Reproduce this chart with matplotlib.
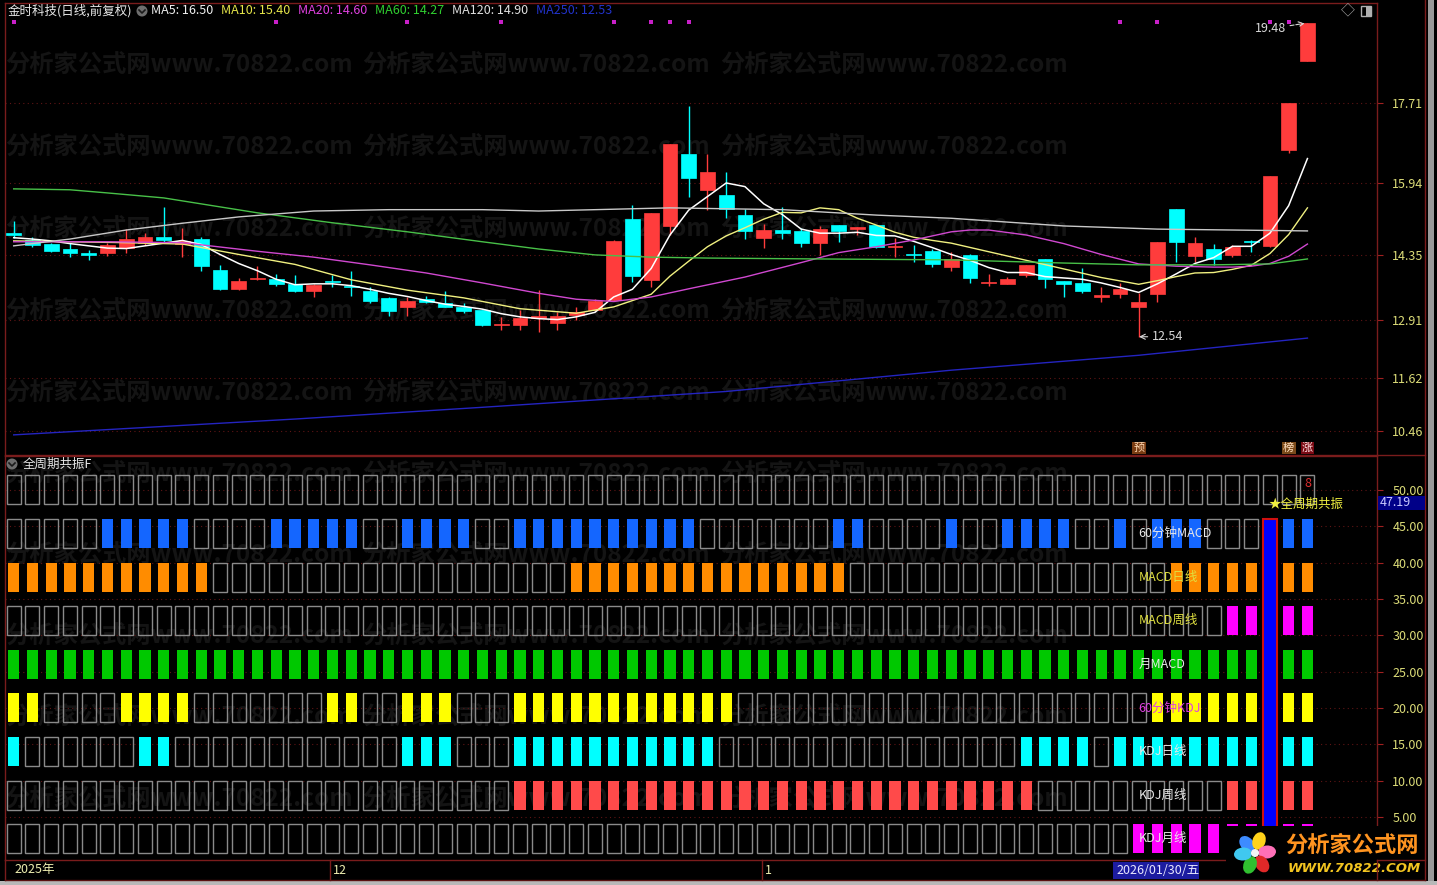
import numpy as np
import matplotlib.pyplot as plt
from matplotlib.patches import Rectangle, Ellipse
from matplotlib.lines import Line2D

plt.rcParams['font.family'] = ['Noto Sans CJK SC', 'DejaVu Sans']

# ---------------- data ----------------
opens = [14.84, 14.68, 14.59, 14.48, 14.38, 14.39, 14.50, 14.62, 14.75, 14.59,
         14.70, 14.02, 13.60, 13.82, 13.82, 13.71, 13.55, 13.77, 13.66, 13.55,
         13.40, 13.20, 13.38, 13.29, 13.20, 13.13, 12.81, 12.80, 12.96, 12.85,
         13.02, 13.13, 13.35, 15.15, 13.80, 14.99, 16.58, 15.79, 15.68, 15.23,
         14.73, 14.90, 14.88, 14.62, 15.01, 14.92, 15.01, 14.52, 14.36, 14.44,
         14.08, 14.35, 13.72, 13.71, 13.91, 14.26, 13.77, 13.73, 13.43, 13.49,
         13.20, 13.49, 15.37, 14.33, 14.48, 14.35, 14.65, 14.55, 16.67, 18.64]
highs = [15.10, 14.75, 14.62, 14.62, 14.46, 14.62, 14.92, 14.84, 15.41, 14.95,
         14.75, 14.13, 13.84, 14.11, 13.93, 13.91, 13.71, 13.91, 13.99, 13.64,
         13.42, 13.42, 13.44, 13.55, 13.29, 13.13, 12.98, 13.13, 13.58, 13.09,
         13.20, 13.38, 14.68, 15.46, 15.28, 16.80, 17.65, 16.58, 16.19, 15.37,
         15.04, 15.41, 14.95, 14.99, 15.01, 14.97, 15.02, 14.73, 14.57, 14.48,
         14.42, 14.36, 13.93, 13.86, 14.13, 14.27, 13.78, 14.06, 13.64, 13.73,
         13.51, 14.64, 15.37, 14.75, 14.59, 14.57, 14.68, 16.09, 17.70, 19.48]
lows = [14.73, 14.53, 14.42, 14.30, 14.24, 14.33, 14.39, 14.57, 14.64, 14.30,
        13.99, 13.58, 13.58, 13.80, 13.66, 13.54, 13.42, 13.64, 13.44, 13.29,
        13.00, 13.00, 13.29, 13.19, 13.07, 12.78, 12.69, 12.69, 12.65, 12.69,
        12.91, 13.11, 13.33, 13.75, 13.64, 14.79, 15.63, 15.35, 15.17, 14.70,
        14.50, 14.70, 14.53, 14.35, 14.64, 14.79, 14.50, 14.30, 14.19, 14.08,
        13.99, 13.73, 13.66, 13.70, 13.86, 13.62, 13.42, 13.51, 13.31, 13.40,
        12.54, 13.31, 14.19, 14.19, 14.13, 14.30, 14.42, 14.53, 16.61, 18.64]
closes = [14.79, 14.57, 14.44, 14.39, 14.36, 14.57, 14.70, 14.75, 14.68, 14.66,
          14.11, 13.60, 13.77, 13.84, 13.71, 13.55, 13.69, 13.75, 13.64, 13.33,
          13.11, 13.33, 13.31, 13.20, 13.11, 12.80, 12.83, 12.96, 13.00, 13.00,
          13.09, 13.33, 14.66, 13.89, 15.28, 16.80, 16.05, 16.19, 15.37, 14.88,
          14.90, 14.84, 14.62, 14.92, 14.88, 14.97, 14.53, 14.54, 14.34, 14.15,
          14.26, 13.84, 13.74, 13.82, 14.13, 13.82, 13.71, 13.55, 13.45, 13.60,
          13.31, 14.64, 14.64, 14.62, 14.26, 14.53, 14.63, 16.09, 17.70, 19.47]

ma5 = [14.73, 14.70, 14.66, 14.60, 14.55, 14.50, 14.49, 14.55, 14.61, 14.67,
       14.58, 14.36, 14.16, 14.00, 13.81, 13.69, 13.71, 13.71, 13.67, 13.59,
       13.50, 13.43, 13.34, 13.26, 13.21, 13.15, 13.05, 12.98, 12.94, 12.92,
       12.98, 13.08, 13.42, 13.59, 14.05, 14.79, 15.34, 15.64, 15.94, 15.86,
       15.48, 15.24, 14.92, 14.83, 14.83, 14.85, 14.78, 14.77, 14.65, 14.51,
       14.36, 14.23, 14.07, 13.96, 13.96, 13.87, 13.84, 13.81, 13.73, 13.63,
       13.52, 13.71, 13.93, 14.16, 14.29, 14.54, 14.54, 14.83, 15.44, 16.48]
ma10_idx = [0, 3, 6, 9, 12, 15, 18, 21, 24, 27, 30, 32, 34, 35, 36, 37, 38, 39,
            40, 41, 42, 43, 44, 45, 46, 47, 48, 49, 50, 52, 54, 56, 58, 60, 61,
            62, 63, 64, 65, 66, 67, 68, 69]
ma10 = [14.66, 14.64, 14.62, 14.59, 14.36, 14.14, 13.80, 13.57, 13.40, 13.16,
        13.06, 13.20, 13.48, 13.88, 14.21, 14.53, 14.77, 14.95, 15.14, 15.29,
        15.28, 15.39, 15.35, 15.16, 15.01, 14.85, 14.74, 14.67, 14.61, 14.42,
        14.23, 14.04, 13.85, 13.70, 13.78, 13.87, 13.95, 13.96, 14.03, 14.12,
        14.38, 14.80, 15.39]
ma20_idx = [0, 5, 9, 13, 16, 19, 22, 25, 28, 30, 32, 34, 36, 39, 42, 44, 46, 48,
            50, 51, 52, 54, 56, 58, 60, 62, 64, 65, 66, 67, 68, 69]
ma20 = [14.64, 14.64, 14.62, 14.43, 14.30, 14.13, 13.95, 13.73, 13.50, 13.37,
        13.32, 13.42, 13.60, 13.86, 14.18, 14.40, 14.53, 14.68, 14.86, 14.90,
        14.90, 14.79, 14.60, 14.36, 14.15, 14.10, 14.08, 14.08, 14.10, 14.16,
        14.32, 14.59]
ma60_idx = [0, 3, 5, 8, 13, 17, 21, 25, 28, 31, 34, 37, 43, 50, 56, 60, 64, 67, 69]
ma60 = [15.81, 15.79, 15.72, 15.61, 15.28, 15.06, 14.86, 14.64, 14.48, 14.35,
        14.30, 14.28, 14.26, 14.24, 14.17, 14.13, 14.13, 14.15, 14.26]
ma120_idx = [0, 3, 6, 9, 12, 16, 20, 25, 28, 35, 41, 46, 50, 56, 61, 65, 69]
ma120 = [14.55, 14.70, 14.90, 15.05, 15.19, 15.32, 15.35, 15.35, 15.32, 15.39,
         15.35, 15.23, 15.16, 14.99, 14.92, 14.90, 14.88]
ma250_idx = [0, 15, 25, 38, 50, 60, 69]
ma250 = [10.37, 10.72, 10.98, 11.33, 11.80, 12.13, 12.51]

dot_cols = [0, 14, 21, 26, 32, 34, 35, 36, 59, 61, 67, 68]
price_ticks = [10.46, 11.62, 12.91, 14.35, 15.94, 17.71]
sig_ticks = [5, 10, 15, 20, 25, 30, 35, 40, 45, 50]

row_names = ['60分钟MACD', 'MACD日线', 'MACD周线', '月MACD',
             '60分钟KDJ', 'KDJ日线', 'KDJ周线', 'KDJ月线']
macd60_on = [*range(5, 10), *range(14, 19), *range(21, 25), *range(27, 37),
             44, 45, 50, *range(53, 57), 59, 61, 62, 63, 68, 69]
macd_day_on = [*range(0, 11), *range(30, 45), *range(62, 67), 68, 69]
macd_week_on = [65, 66, 68, 69]
macd_month_on = [*range(0, 67), 68, 69]
kdj60_on = [0, 1, *range(6, 10), 17, 18, 21, 22, 23, *range(27, 39),
            *range(61, 67), 68, 69]
kdj_day_on = [0, 7, 8, 21, 22, 23, *range(27, 38), *range(54, 58),
              *range(59, 67), 68, 69]
kdj_week_on = [*range(27, 55), 65, 66, 68, 69]
kdj_month_on = [*range(60, 67), 68, 69]
rows_on = [macd60_on, macd_day_on, macd_week_on, macd_month_on,
           kdj60_on, kdj_day_on, kdj_week_on, kdj_month_on]
resonance_col = 67

# ---------------- style ----------------
RED = '#FF3C3C'
CYAN = '#00FFFF'
SPINE = '#7a1c1c'
GRID = '#5e1515'
TICKTXT = '#DCDC78'
row_colors = ['#1466FF', '#FF8C00', '#FF00FF', '#00C800',
              '#FFFF00', '#00FFFF', '#FF4A4A', '#FF00FF']
label_colors = ['#E8E8E8', '#E0E040', '#E0E040', '#E8E8E8',
                '#E040E0', '#E8E8E8', '#E8E8E8', '#E8E8E8']

W, H = 1437, 885
fig = plt.figure(figsize=(W / 100, H / 100), dpi=100)
fig.patch.set_facecolor('black')


def fx(px):
    return px / W


def fy(py):
    return 1 - py / H


def px_rect(x0, y0, x1, y1):
    return [fx(x0), fy(y1), fx(x1) - fx(x0), fy(y0) - fy(y1)]


# watermark behind everything
wm = '分析家公式网www.70822.com'
for yy in [65, 147, 229, 311, 393, 474, 555, 636, 717, 799]:
    for xx in [5, 362, 720]:
        fig.text(fx(xx), fy(yy), wm, color='#141414', fontsize=17.5,
                 fontweight='bold', va='center', zorder=-5)

ax = fig.add_axes(px_rect(5, 3, 1377, 455))
ax2 = fig.add_axes(px_rect(5, 456, 1377, 860))
XLIM = (-0.464, 72.71)

for a in (ax, ax2):
    a.set_facecolor('none')
    a.set_xlim(XLIM)
    a.set_xticks([])
    for s in a.spines.values():
        s.set_color(SPINE)
        s.set_linewidth(1)
    a.yaxis.tick_right()
    a.tick_params(axis='y', length=4, pad=7, color='#a02020',
                  labelcolor=TICKTXT, labelsize=9)

# ---------------- price panel ----------------
ax.set_ylim(9.925, 19.92)
ax.set_yticks(price_ticks)
ax.set_yticklabels(['%.2f' % p for p in price_ticks])
for p in price_ticks:
    ax.axhline(p, color=GRID, lw=0.8, ls=(0, (1, 3)), zorder=1)

x = np.arange(len(closes))
o, h, l, c = map(np.array, (opens, highs, lows, closes))
col = np.where(c >= o, RED, CYAN)
ax.vlines(x, l, h, colors=col, lw=1, zorder=3)
body = np.maximum(np.abs(c - o), 0.025)
bot = np.minimum(o, c) - (body - np.abs(c - o)) / 2
ax.bar(x, body, bottom=bot, width=0.78, color=col, edgecolor=col, lw=0.5, zorder=4)

ax.plot(x, ma5, color='#FFFFFF', lw=1.1, zorder=6)
ax.plot(ma10_idx, ma10, color='#F0F080', lw=1, zorder=6)
ax.plot(ma20_idx, ma20, color='#D048D0', lw=1, zorder=6)
ax.plot(ma60_idx, ma60, color='#48C048', lw=1, zorder=6)
ax.plot(ma120_idx, ma120, color='#C8C8C8', lw=1, zorder=6)
ax.plot(ma250_idx, ma250, color='#2424C0', lw=1, zorder=6)

ax.scatter(dot_cols, [19.50] * len(dot_cols), marker='s', s=5, color='#C820C8',
           zorder=6, linewidths=0)

ax.annotate('%.2f' % highs[-1], xy=(68.85, 19.47), xytext=(67.85, 19.35),
            ha='right', va='center', color='#D8D8D8', fontsize=9,
            arrowprops=dict(arrowstyle='->', color='#D8D8D8', lw=0.8, ls='--',
                            shrinkA=1, shrinkB=0), zorder=7)
lo_i = int(np.argmin(l))
ax.annotate('%.2f' % l[lo_i], xy=(lo_i + 0.02, l[lo_i]), xytext=(lo_i + 0.7, l[lo_i]),
            ha='left', va='center', color='#D8D8D8', fontsize=9,
            arrowprops=dict(arrowstyle='->', color='#D8D8D8', lw=0.8,
                            shrinkA=1, shrinkB=0), zorder=7)

for ci, ch, fc, tc in [(60, '预', '#7a3c12', '#FFD8B0'),
                       (68, '榜', '#7a4a1a', '#FFE0C0'),
                       (69, '涨', '#7a0a14', '#FFE0E0')]:
    ax.text(ci, 10.08, ch, ha='center', va='center', fontsize=8, color=tc,
            bbox=dict(boxstyle='square,pad=0.12', fc=fc, ec='none'), zorder=7)

# ---------------- signal panel ----------------
ax2.set_ylim(-0.92, 54.65)
ax2.set_yticks(sig_ticks)
ax2.set_yticklabels(['%.2f' % v for v in sig_ticks])
for v in sig_ticks:
    ax2.axhline(v, color=GRID, lw=0.8, ls=(0, (1, 3)), zorder=1)

n = len(closes)
# top row: empty boxes only
ax2.bar(x, 4, bottom=48, width=0.75, facecolor='none', edgecolor='#8a8a8a',
        lw=1, zorder=3)
for r, on in enumerate(rows_on):
    base = 42 - 6 * r
    off = [i for i in range(n) if i not in on and i != resonance_col]
    ax2.bar(off, 4, bottom=base, width=0.75, facecolor='none',
            edgecolor='#8a8a8a', lw=1, zorder=3)
    ax2.bar(on, 4, bottom=base, width=0.6, color=row_colors[r], lw=0, zorder=3)
    ax2.text(60.0, base + 2, row_names[r], color=label_colors[r], fontsize=9,
             ha='left', va='center', zorder=6)

ax2.bar([resonance_col], [46], bottom=0, width=0.7, color='#0000FF',
        edgecolor='#D01010', lw=1.5, zorder=4)
ax2.text(69, 50.9, '8', color='#E03030', fontsize=9, ha='center', va='center', zorder=6)
ax2.text(66.95, 48.05, '★全周期共振', color='#F0F040', fontsize=9,
         ha='left', va='center', zorder=6)

# ---------------- frame & headers ----------------
def fline(x0, y0, x1, y1, color=SPINE, lw=1):
    fig.add_artist(Line2D([fx(x0), fx(x1)], [fy(y0), fy(y1)], color=color, lw=lw,
                          transform=fig.transFigure))


fline(1377, 455, 1425, 455)
fline(1377, 860, 1425, 860)
fline(1425, 0, 1425, 880)
fline(1377, 860, 1377, 880)
fline(5, 860, 5, 880)
fline(330, 860, 330, 880)
fline(762, 860, 762, 880)
fline(5, 880, 1425, 880, color='#5a1010')
fig.add_artist(Rectangle((fx(1428), 0), fx(6), 1, transform=fig.transFigure,
                         color='#9a9a9a', lw=0))
fig.add_artist(Rectangle((0, 0), 1, 4 / H, transform=fig.transFigure,
                         color='#b8b8b8', lw=0))

# legend line
fig.text(fx(8), fy(11), '金时科技(日线,前复权)', color='#E8E8E8', fontsize=9, va='center')
legend = [(151, 'MA5: 16.50', '#F0F0F0'), (221, 'MA10: 15.40', '#E6E64A'),
          (298, 'MA20: 14.60', '#E040E0'), (375, 'MA60: 14.27', '#30D030'),
          (452, 'MA120: 14.90', '#E0E0E0'), (536, 'MA250: 12.53', '#2233CC')]
for xx, t, cc in legend:
    fig.text(fx(xx), fy(11), t, color=cc, fontsize=9, va='center')

for cx, cy in [(142, 11), (12, 464)]:
    fig.add_artist(Ellipse((fx(cx), fy(cy)), 11 / W, 11 / H, transform=fig.transFigure,
                           color='#6e6e6e', lw=0))
    fig.add_artist(Line2D([fx(cx - 3), fx(cx), fx(cx + 3)], [fy(cy - 1), fy(cy + 2), fy(cy - 1)],
                          color='#1a1a1a', lw=1.2, transform=fig.transFigure))
fig.text(fx(23), fy(464), '全周期共振F', color='#E8E8E8', fontsize=9, va='center')

fig.text(fx(1348), fy(11), '◇', color='#B0B0B0', fontsize=10, va='center', ha='center')
fig.add_artist(Rectangle((fx(1361), fy(16)), 10 / W, 10 / H, transform=fig.transFigure,
                         fill=False, ec='#B0B0B0', lw=1))
fig.add_artist(Rectangle((fx(1366), fy(16)), 5 / W, 10 / H, transform=fig.transFigure,
                         color='#B0B0B0', lw=0))

# current value badge on right axis
fig.add_artist(Rectangle((fx(1378), fy(510)), 47 / W, 14 / H, transform=fig.transFigure,
                         color='#000088', lw=0, zorder=5))
fig.text(fx(1380), fy(503), '47.19', color='#C8C8FF', fontsize=9, va='center', zorder=6)

# date strip
fig.text(fx(14), fy(870), '2025年', color='#EEEEB0', fontsize=9, va='center')
fig.text(fx(333), fy(870), '12', color='#EEEEB0', fontsize=9, va='center')
fig.text(fx(765), fy(870), '1', color='#EEEEB0', fontsize=9, va='center')
fig.add_artist(Rectangle((fx(1113), fy(879)), 86 / W, 17 / H, transform=fig.transFigure,
                         color='#1c1ca0', lw=0))
fig.text(fx(1116), fy(870), '2026/01/30/五', color='#E8E8FF', fontsize=9, va='center')

# site logo
lg = fig.add_axes(px_rect(1226, 826, 1425, 880))
lg.set_xlim(1226, 1425)
lg.set_ylim(880, 826)
lg.set_facecolor('black')
lg.set_xticks([])
lg.set_yticks([])
for s in lg.spines.values():
    s.set_visible(False)
petals = [(-8, -9, '#3D8BFF'), (4, -12, '#FFD21A'), (12, -1, '#FF70B8'),
          (7, 11, '#E02828'), (-5, 12, '#30C030'), (-12, 1, '#40C8F0')]
for dx, dy, pc in petals:
    ang = np.degrees(np.arctan2(dy, dx)) + 90
    lg.add_patch(Ellipse((1255 + dx, 853 + dy), 13, 18, angle=ang, color=pc, lw=0))
lg.add_patch(Ellipse((1255, 853), 8, 8, color='#F4F4F4', lw=0))
lg.text(1352, 845, '分析家公式网', color='#FF9420', fontsize=16, fontweight='bold',
        ha='center', va='center')
lg.text(1354, 868, 'WWW.70822.COM', color='#F2C420', fontsize=9.5, fontweight='bold',
        fontstyle='italic', ha='center', va='center', family='DejaVu Sans')

fig.savefig('out.png', dpi=100, facecolor='black')
